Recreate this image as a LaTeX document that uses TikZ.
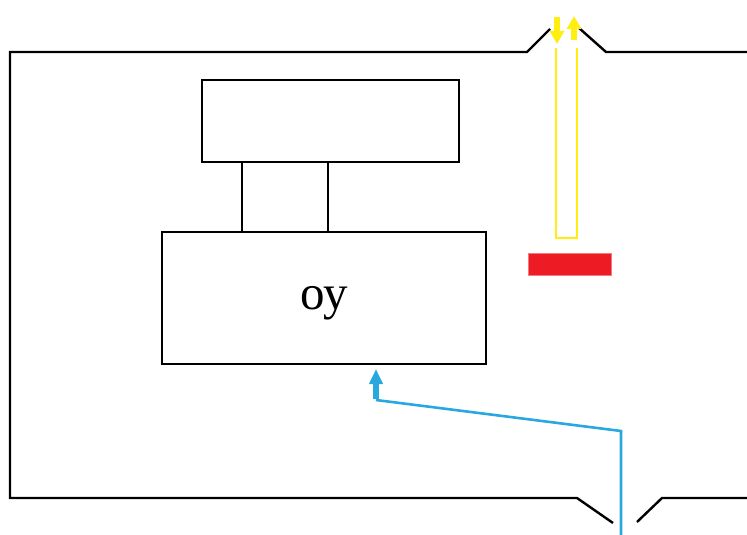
\documentclass[tikz,border=0pt]{standalone}
\usepackage{fontspec}
\setmainfont{Liberation Serif}
\usetikzlibrary{arrows.meta}
\definecolor{signalblue}{HTML}{29A8E0}
\definecolor{lightyellow}{HTML}{FFEE10}
\definecolor{ledred}{HTML}{ED1C24}
\definecolor{ledrim}{HTML}{F27A80}
\tikzset{
  block/.style={draw=black, line width=2.4pt, inner sep=0pt},
  beam/.style={draw=lightyellow, line width=6pt, -{Triangle[length=13pt,width=14pt]}},
}
\begin{document}
\begin{tikzpicture}[x=1pt,y=-1pt,line width=2.4pt]
\useasboundingbox (0,0) rectangle (747,535);
% housing
\draw (747,52) -- (606,52) -- (579,28);
\draw (550,29) -- (527,52) -- (10,52) -- (10,498) -- (577,498) -- (613,523);
\draw (637,522) -- (662,498) -- (747,498);
% blocks
\node[block, minimum width=257, minimum height=82] (top) at (330.5,121) {};
\node[block, minimum width=86, minimum height=70] (neck) at (285,197) {};
\node[block, minimum width=324, minimum height=132] (amp) at (324,298) {};
\node[font=\fontsize{49}{58}\selectfont, inner sep=0pt] (amplabel) at ([yshift=-5]amp.center) {оу};
% light guide
\draw[lightyellow, line width=2.2pt] (556,48) -- (556,238) -- (577,238) -- (577,48);
\foreach \x/\a/\b in {557/17/44, 574/40/16}
  \draw[beam] (\x,\a) -- (\x,\b);
% led
\node[fill=ledred, draw=ledrim, line width=1.5pt, minimum width=83, minimum height=22, inner sep=0pt] (led) at (570,264.5) {};
% signal input
\coordinate (entry) at (621,535);
\coordinate (bend) at (621,431);
\coordinate (foot) at (376,400);
\coordinate (tip) at (376,369);
\draw[signalblue, line width=2.6pt] (entry) -- (bend) -- (foot);
\draw[signalblue, line width=5.5pt, -{Triangle[length=15pt,width=13pt]}] ([yshift=1]foot) -- (tip);
\end{tikzpicture}
\end{document}
